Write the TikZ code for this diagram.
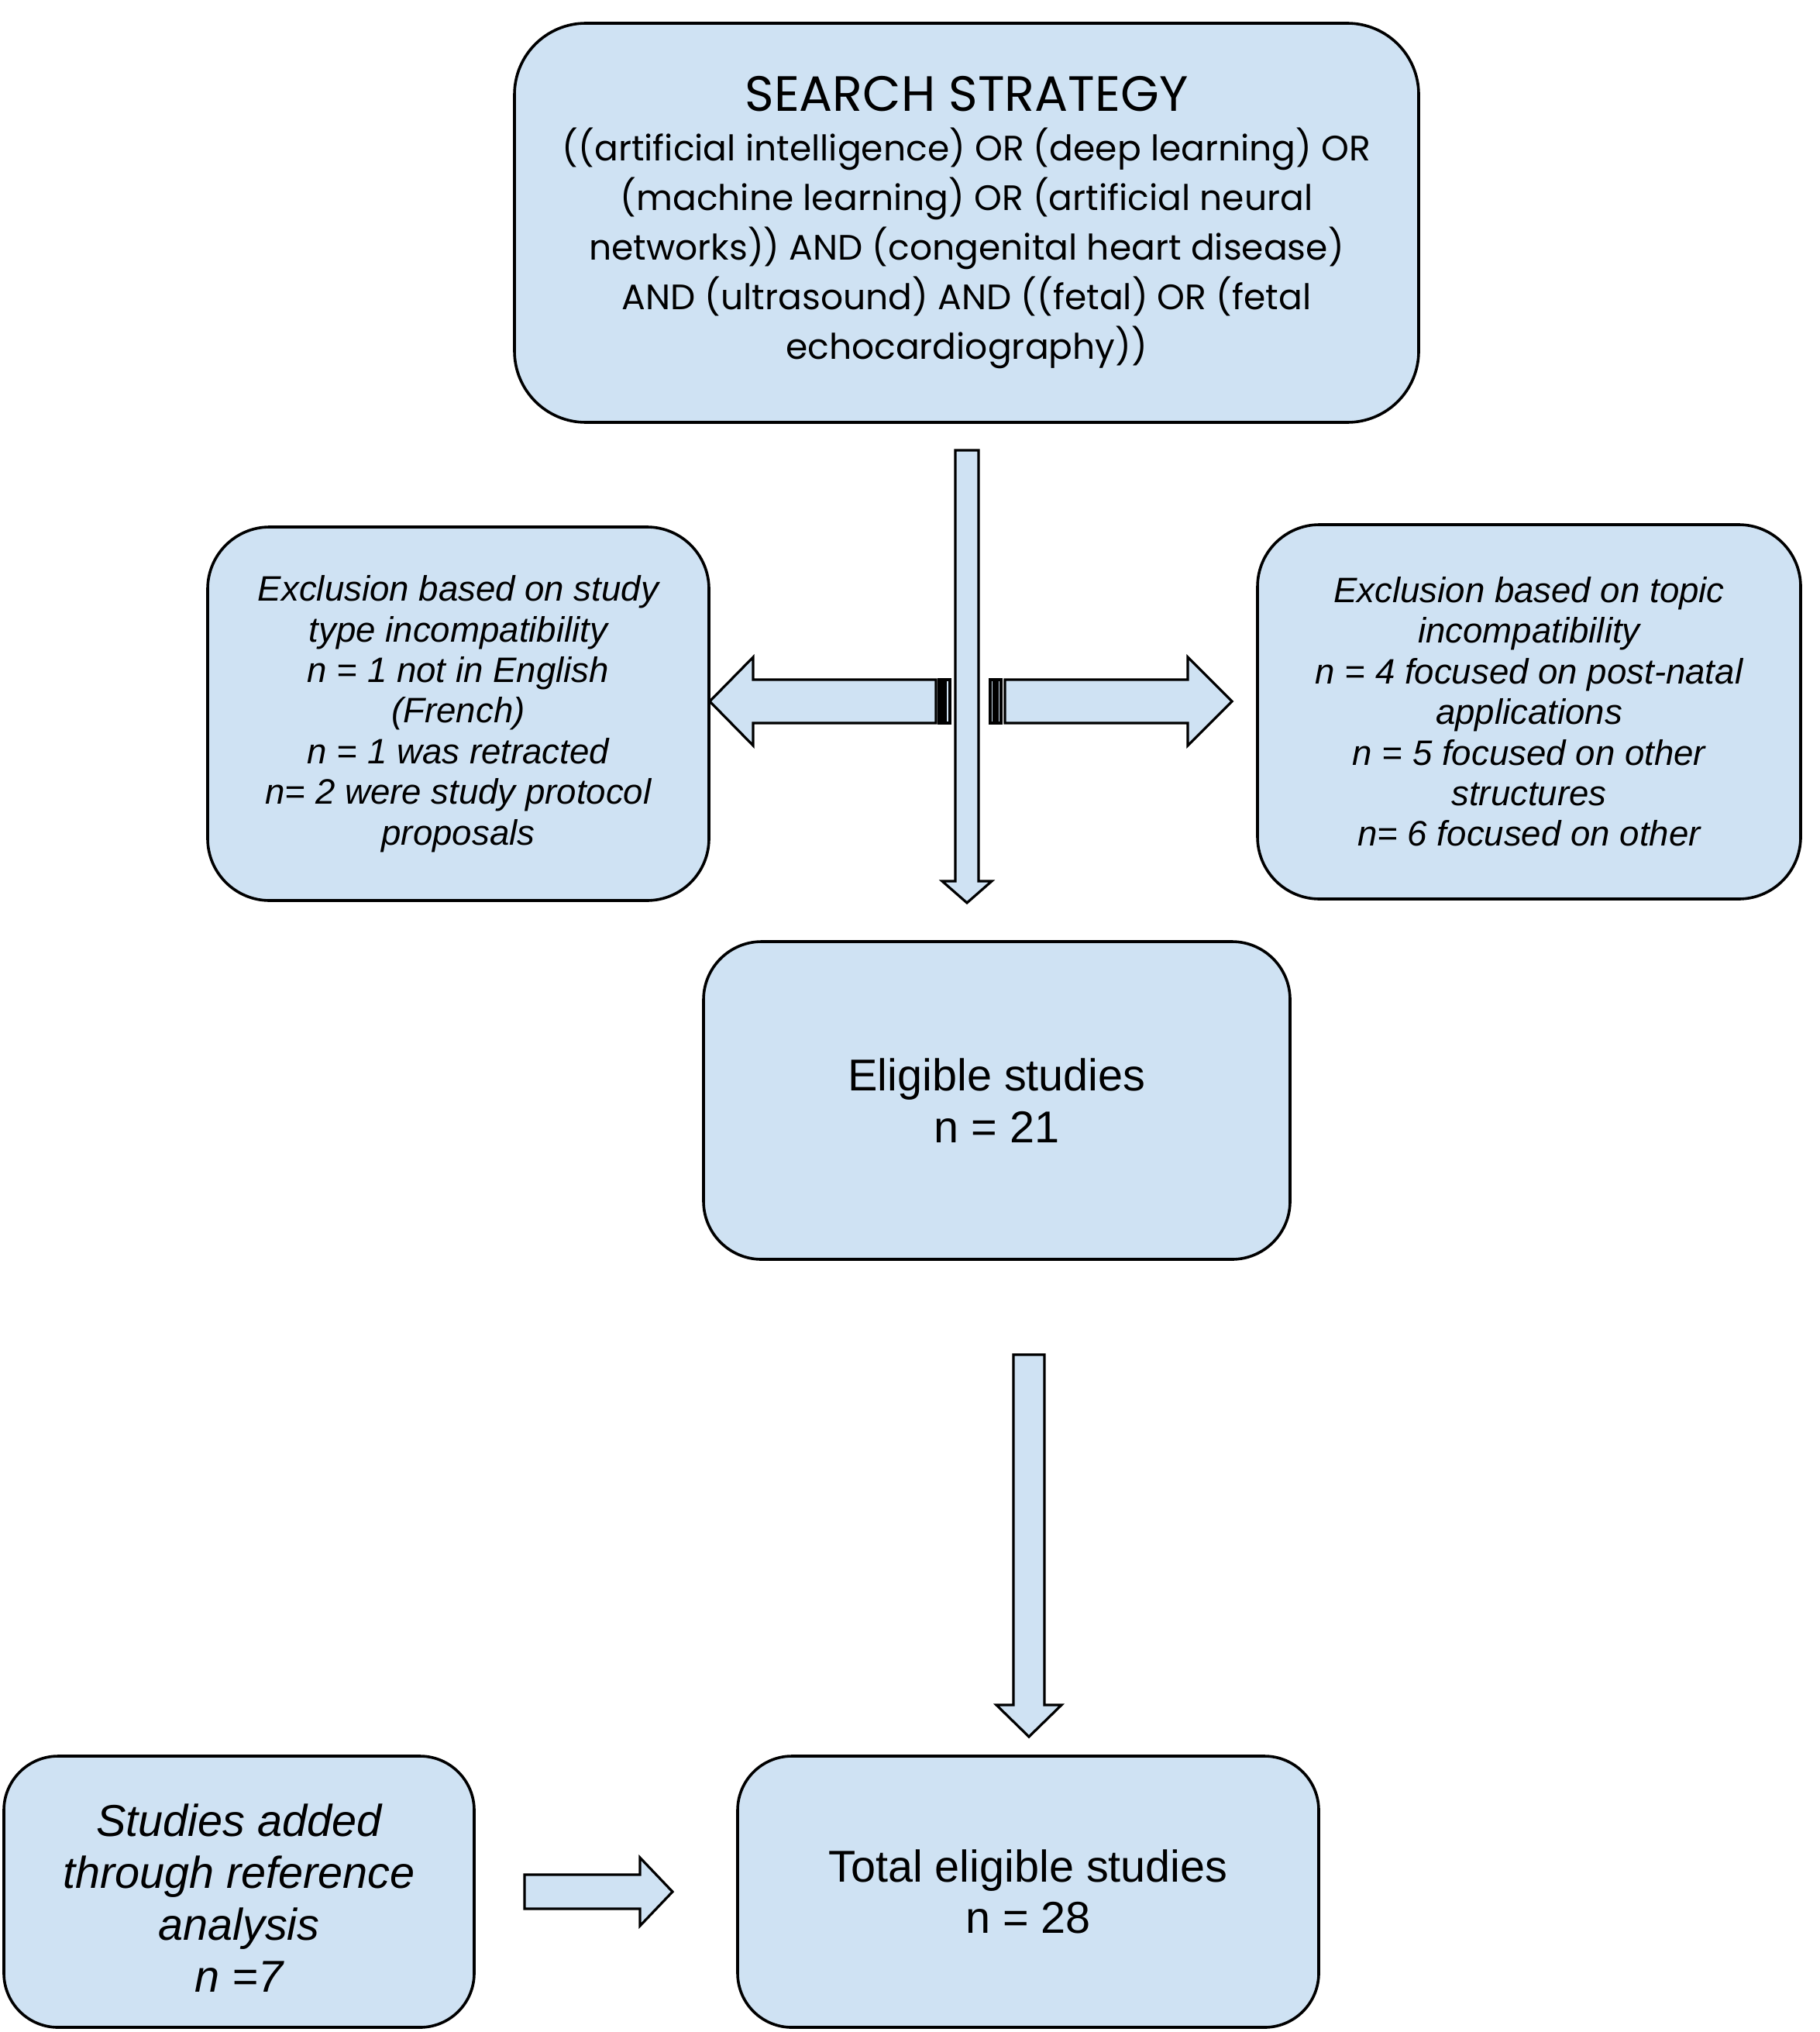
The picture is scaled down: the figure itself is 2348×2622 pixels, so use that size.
\documentclass[tikz,border=0pt]{standalone}
\usepackage{fontspec}
\setmainfont{Liberation Sans}
\newfontfamily\searchfont{Poppins}
\usetikzlibrary{positioning, calc}
\definecolor{boxblue}{HTML}{CFE2F3}
\tikzset{
x=0.25pt, y=-0.25pt, % one unit is one pixel of the page
every box/.style={draw, fill=boxblue, line width=0.9pt, align=center, inner sep=0pt}, % rounded boxes
fatarrow/.style={draw, fill=boxblue, line width=0.8pt, line join=miter}, % block arrows
}
% block arrows: start, tip, half shaft, half head, head length
\newcommand{\fatdown}[5]{%
\draw[fatarrow] ($(#1)+(-#3,0)$) -- ($(#1)+(#3,0)$) -- ($(#2)+(#3,-#5)$) -- ($(#2)+(#4,-#5)$) -- (#2) -- ($(#2)+(-#4,-#5)$) -- ($(#2)+(-#3,-#5)$) -- cycle;}
\newcommand{\fatright}[5]{%
\draw[fatarrow] ($(#1)+(0,-#3)$) -- ($(#2)+(-#5,-#3)$) -- ($(#2)+(-#5,-#4)$) -- (#2) -- ($(#2)+(-#5,#4)$) -- ($(#2)+(-#5,#3)$) -- ($(#1)+(0,#3)$) -- cycle;}
\newcommand{\fatleft}[5]{%
\draw[fatarrow] ($(#1)+(0,-#3)$) -- ($(#2)+(#5,-#3)$) -- ($(#2)+(#5,-#4)$) -- (#2) -- ($(#2)+(#5,#4)$) -- ($(#2)+(#5,#3)$) -- ($(#1)+(0,#3)$) -- cycle;}
% stripe at the tail: coordinate, from, to, half height
\newcommand{\fatstripe}[4]{%
\draw[fatarrow] ($(#1)+(#2,-#4)$) rectangle ($(#1)+(#3,#4)$);}

\begin{document}
\begin{tikzpicture}
\useasboundingbox (0,0) rectangle (2348,2622);

\node[every box, rounded corners=23pt, minimum width=291.75pt, minimum height=128.75pt,
  font=\searchfont\fontsize{11.4}{16}\selectfont] at (1247.5,287.5) (search)
  {{\fontsize{16}{16}\selectfont SEARCH STRATEGY}\\
  ((artificial intelligence) OR (deep learning) OR\\
  (machine learning) OR (artificial neural\\
  networks)) AND (congenital heart disease)\\
  AND (ultrasound) AND ((fetal) OR (fetal\\
  echocardiography))};

\node[every box, rounded corners=20pt, minimum width=161.75pt, minimum height=120.5pt,
  font=\itshape\fontsize{11.4}{13.1}\selectfont] at (591.5,921) (exstudy)
  {Exclusion based on study\\ type incompatibility\\ n = 1 not in English\\ (French)\\
  n = 1 was retracted\\ n= 2 were study protocol\\ proposals};

\node[every box, rounded corners=20pt, minimum width=175.25pt, minimum height=120.75pt,
  font=\itshape\fontsize{11.4}{13.1}\selectfont] at (1973.5,918.5) (extopic)
  {Exclusion based on topic\\ incompatibility\\ n = 4 focused on post-natal\\ applications\\
  n = 5 focused on other\\ structures\\ n= 6 focused on other};

\node[every box, rounded corners=18.75pt, minimum width=189.25pt, minimum height=102.5pt,
  font=\fontsize{14.4}{16.6}\selectfont] at (1286.5,1420) (eligible)
  {Eligible studies\\ n = 21};

\node[every box, rounded corners=17.5pt, minimum width=151.75pt, minimum height=87.5pt,
  font=\itshape\fontsize{14.4}{16.7}\selectfont] at (308.5,2441) (added)
  {\rule{0pt}{14.5pt}Studies added\\ through reference\\ analysis\\ n =7};

\node[every box, rounded corners=17.5pt, minimum width=187.5pt, minimum height=87.5pt,
  font=\fontsize{14.4}{16.6}\selectfont] at (1327,2441) (total)
  {Total eligible studies\\ n = 28};

% arrows
\coordinate (downtop) at (1248,581);
\coordinate (downtip) at (1248,1165);
\coordinate (lefttail) at (1208,905);
\coordinate (lefttip) at (916,905);
\coordinate (righttail) at (1297,905);
\coordinate (righttip) at (1590,905);
\coordinate (lowtop) at (1328,1748);
\coordinate (lowtip) at (1328,2241);
\coordinate (addtail) at (677,2441);
\coordinate (addtip) at (868,2441);

\fatdown{downtop}{downtip}{15}{32}{28}
\fatleft{lefttail}{lefttip}{28}{57}{56}
\fatstripe{lefttail}{4}{8}{28}
\fatstripe{lefttail}{12}{18}{28}
\fatright{righttail}{righttip}{28}{57}{57}
\fatstripe{righttail}{-19}{-14}{28}
\fatstripe{righttail}{-10}{-5}{28}
\fatdown{lowtop}{lowtip}{20}{42}{41}
\fatright{addtail}{addtip}{22}{44}{42}
\end{tikzpicture}
\end{document}
